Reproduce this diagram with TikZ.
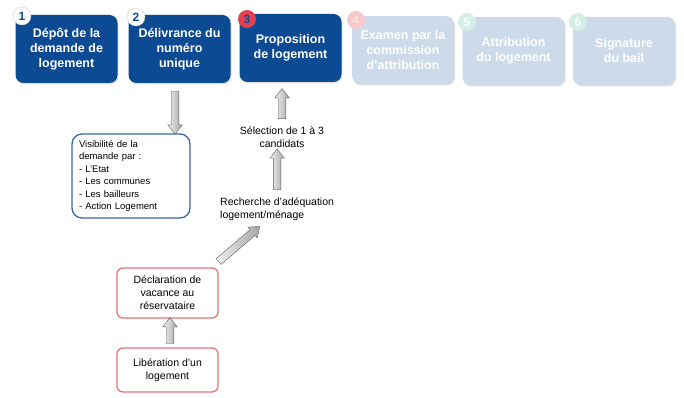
\documentclass[tikz,border=0pt]{standalone}
\usepackage{fontspec}
\setmainfont{Liberation Sans}
\usetikzlibrary{shapes.arrows,shadows}
\definecolor{navy}{HTML}{0D4A94}
\definecolor{fade}{HTML}{CCDAE9}
\definecolor{badgered}{HTML}{E5404D}
\definecolor{badgepink}{HTML}{F6C9CB}
\definecolor{badgemint}{HTML}{D2EFE8}
\definecolor{pinkline}{HTML}{E7737B}
\definecolor{visline}{HTML}{3A66A6}
\begin{document}
\begin{tikzpicture}[x=1pt,y=-1pt,
  stage/.style={rectangle, rounded corners=8pt, minimum width=102pt, minimum height=68pt,
    inner sep=2pt, align=center, font=\fontsize{12.5}{15}\selectfont\bfseries, text=white,
    drop shadow={opacity=0.25, shadow xshift=1pt, shadow yshift=-1.5pt}},
  active/.style={stage, fill=navy},
  faded/.style={stage, fill=fade},
  badge/.style={circle, minimum size=18pt, inner sep=0pt, font=\fontsize{12}{12}\selectfont\bfseries},
  pinkbox/.style={rectangle, rounded corners=6pt, draw=pinkline, line width=1.3pt, fill=white,
    minimum width=101pt, align=center, font=\fontsize{10.5}{13}\selectfont},
  plain/.style={inner sep=0pt, font=\fontsize{10.5}{13}\selectfont},
  fatarrow/.style={single arrow, draw=gray!75!black, line width=0.4pt,
    left color=gray!12, right color=gray!70, inner sep=3.6pt,
    single arrow head extend=3.4pt, single arrow tip angle=75,
    sloped, allow upside down}]
\useasboundingbox (0,0) rectangle (684,398);

% top stages
\node[active] (box1) at (66.5,49) {Dépôt de la\\demande de\\logement};
\node[active] (box2) at (179.5,49) {Délivrance du\\numéro\\unique};
\node[active] (box3) at (290.5,48) {Proposition\\de logement};
\node[faded]  (box4) at (403,50) {Examen par la\\commission\\d'attribution};
\node[faded]  (box5) at (513.5,51) {Attribution\\du logement};
\node[faded]  (box6) at (624,51) {Signature\\du bail};

% badges
\node[badge, fill=white, draw=gray!35, text=navy] (b1) at (22,16) {1};
\node[badge, fill=white, draw=gray!35, text=navy] (b2) at (136,17) {2};
\node[badge, fill=badgered, text=navy] (b3) at (247,19) {3};
\node[badge, fill=badgepink, text=red!12] (b4) at (356,20) {4};
\node[badge, fill=badgemint, text=white] (b5) at (467,22) {5};
\node[badge, fill=badgemint, text=white] (b6) at (578,22) {6};

% visibility box
\node[rectangle, rounded corners=10pt, draw=visline, line width=1.3pt, text width=104pt,
      inner xsep=7pt, minimum height=84pt, align=left,
      font=\fontsize{9.5}{12.5}\selectfont] (vis) at (131,176)
  {Visibilité de la\\demande par :\\- L'Etat\\- Les communes\\- Les bailleurs\\- Action Logement};

% middle texts
\node[plain, align=center] (sel) at (282,137) {Sélection de 1 à 3\\candidats};
\node[plain, align=left, anchor=north west] (rech) at (220,197.5) {Recherche d'adéquation\\logement/ménage};

% red boxes
\node[pinkbox, minimum height=50pt] (decl) at (167.5,293) {Déclaration de\\vacance au\\réservataire};
\node[pinkbox, minimum height=44pt] (lib) at (167.5,370) {Libération d'un\\logement};

% arrows
\coordinate (aTop) at ([xshift=-4.5pt,yshift=-6pt]box2.south);
\coordinate (aBot0) at (aTop |- vis.north);
\path (aTop) -- node[fatarrow, minimum height=43pt] {} ([yshift=2pt]aBot0);

\coordinate (bTop0) at (sel.north |- box3.south);
\path ([yshift=4.5pt]sel.north) -- node[fatarrow, minimum height=30pt] {} ([yshift=-8pt]bTop0);

\coordinate (cTop0) at (sel.south -| rech.north);
\path ([yshift=4.5pt]rech.north) -- node[fatarrow, minimum height=41pt] {} ([yshift=-3pt]cTop0);

\path ([xshift=-1pt,yshift=5pt]decl.north east) -- node[fatarrow, minimum height=54pt] {} ([xshift=37pt,yshift=-8pt]rech.south west);

\path ([xshift=2.5pt,yshift=2pt]lib.north) -- node[fatarrow, minimum height=26pt] {} ([xshift=2.5pt,yshift=-2pt]decl.south);
\end{tikzpicture}
\end{document}
